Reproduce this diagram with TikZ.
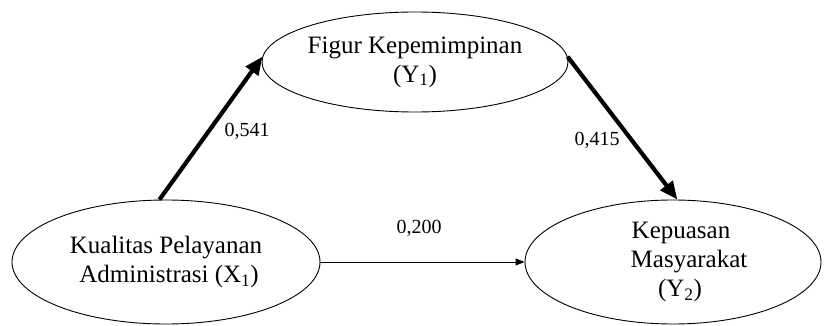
\documentclass[tikz,border=0pt]{standalone}
\usepackage{fontspec}
\setmainfont{Liberation Serif}
\usetikzlibrary{shapes.geometric,arrows.meta}
\begin{document}
\begin{tikzpicture}[x=1pt,y=-1pt,
  var/.style={draw=black, line width=0.9pt, ellipse, inner sep=0pt, align=center,
    font=\fontsize{25}{29}\selectfont},
  strong/.style={line width=4.2pt, -{Triangle[length=18pt,width=15pt]}},
  weak/.style={line width=1pt, -{Triangle[length=9pt,width=7pt]}},
  coef/.style={font=\fontsize{20}{24}\selectfont, inner sep=0pt}
]
\useasboundingbox (0,0) rectangle (824,326);
\node[var, minimum width=308pt, minimum height=124pt] (x1) at (166,262)
  {Kualitas Pelayanan\\ \ Administrasi (X\textsubscript{1})};
\node[var, minimum width=306pt, minimum height=100pt] (y1) at (415,62)
  {Figur Kepemimpinan\\(Y\textsubscript{1})};
\node[var, minimum width=296pt, minimum height=124pt] (y2) at (673,262)
  {\hspace*{16pt}Kepuasan\\\hspace*{32pt}Masyarakat\\\hspace*{14pt}(Y\textsubscript{2})};
\draw[strong] (x1.96) -- (y1.178);
\draw[strong] (y1.2) -- (y2.86);
\draw[weak] (x1.east) -- (y2.west);
\node[coef] (c1) at (247,131) {0,541};
\node[coef] (c2) at (597,140) {0,415};
\node[coef] (c3) at (419,228) {0,200};
\end{tikzpicture}
\end{document}
